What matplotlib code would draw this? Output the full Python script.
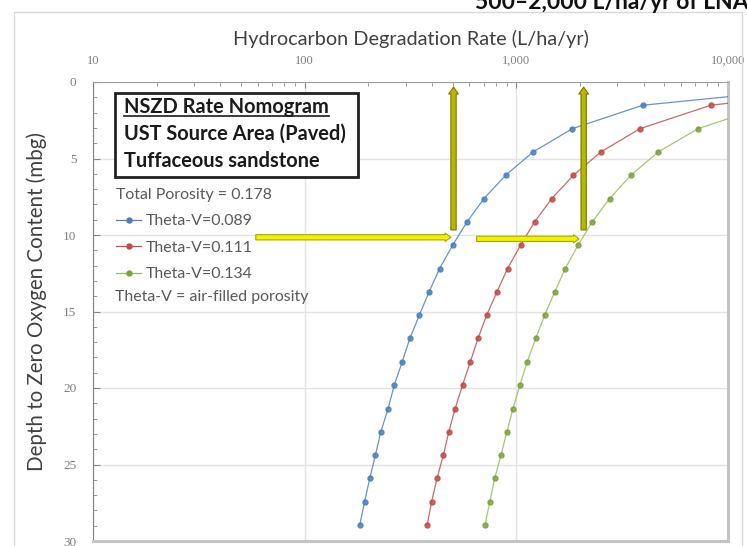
import matplotlib
matplotlib.use("Agg")
import matplotlib.pyplot as plt
from matplotlib.lines import Line2D
from matplotlib.patches import Rectangle
from matplotlib.ticker import FixedLocator, NullFormatter, FuncFormatter

# depth below grade (m), every 5 ft; the 0.30 m row lies off the chart to the right
depth = [0.30, 1.52, 3.05, 4.57, 6.10, 7.62, 9.14, 10.67, 12.19, 13.72, 15.24,
         16.76, 18.29, 19.81, 21.34, 22.86, 24.38, 25.91, 27.43, 28.96]

# degradation rate (L/ha/yr)
rate_089 = [30000, 3950, 1840, 1200, 890, 703, 585, 500, 434, 387, 348,
            314, 289, 265, 248, 229, 216, 203, 192, 182]
rate_111 = [49000, 8280, 3840, 2510, 1860, 1470, 1220, 1047, 909, 810, 724,
            659, 606, 557, 514, 480, 452, 422, 398, 379]
rate_134 = [80000, 15500, 7230, 4680, 3475, 2760, 2285, 1956, 1703, 1518, 1361,
            1234, 1126, 1040, 964, 903, 846, 790, 750, 711]

labels = ["Theta-V=0.089", "Theta-V=0.111", "Theta-V=0.134"]
colors = ["#4F81BD", "#C0504D", "#9BBB59"]
mcolors = ["#4A7EBB", "#BE4B48", "#7F9F3F"]

# target rate window and arrow rows
rate_lo, rate_hi = 505, 2080

plt.rcParams["font.family"] = ["Lato", "DejaVu Sans"]

fig = plt.figure(figsize=(7.47, 5.46), dpi=100)
ax = fig.add_axes([93 / 747, 1 - 541 / 546, 635 / 747, 459 / 546])

# faint chart-area frame
fig.patches.append(Rectangle((14 / 747, -0.05), 728 / 747, 1.05 - 12 / 546,
                             transform=fig.transFigure, fill=False,
                             edgecolor="#D9D9D9", lw=1, zorder=0))

for r, lab, c, mc in zip([rate_089, rate_111, rate_134], labels, colors, mcolors):
    ax.plot(r, depth, color=c, lw=0.9, alpha=0.85, marker="o", ms=3.6,
            mfc=mc, mec=mc, label=lab, zorder=3)

ax.set_xscale("log")
ax.set_xlim(10, 10000)
ax.set_ylim(30, 0)

ax.xaxis.tick_top()
ax.xaxis.set_label_position("top")
ax.xaxis.set_major_locator(FixedLocator([10, 100, 1000, 10000]))
ax.xaxis.set_major_formatter(FuncFormatter(lambda v, p: f"{v:,.0f}"))
ax.xaxis.set_minor_locator(FixedLocator([m * d for d in (10, 100, 1000) for m in range(2, 10)]))
ax.xaxis.set_minor_formatter(NullFormatter())
ax.yaxis.set_major_locator(FixedLocator([0, 5, 10, 15, 20, 25, 30]))
ax.yaxis.set_minor_locator(FixedLocator(list(range(0, 31))))

for t in ax.get_xticklabels() + ax.get_yticklabels():
    t.set_fontfamily("Liberation Serif")
ax.tick_params(axis="x", which="major", direction="in", length=4, pad=11,
               labelsize=9, colors="#888888", labelcolor="#7F7F7F")
ax.tick_params(axis="x", which="minor", direction="in", length=3, colors="#888888")
ax.tick_params(axis="y", which="major", direction="in", length=5, pad=12,
               labelsize=9.5, colors="#888888", labelcolor="#7F7F7F")
ax.tick_params(axis="y", which="minor", direction="in", length=3, colors="#888888")

ax.grid(True, which="major", color="#E3E3E3", lw=1, zorder=0)
ax.set_axisbelow(True)

ax.spines["left"].set_color("#808080")
ax.spines["top"].set_color("#A0A0A0")
ax.spines["right"].set_color("#C4C4C4")
ax.spines["bottom"].set_color("#C4C4C4")
ax.spines["right"].set_linewidth(2.2)
ax.spines["bottom"].set_linewidth(2.2)

ax.set_xlabel("Hydrocarbon Degradation Rate (L/ha/yr)", fontsize=14.3,
              color="#404040", labelpad=7)
ax.set_ylabel("Depth to Zero Oxygen Content (mbg)", fontsize=14.8, color="#404040")
ax.yaxis.set_label_coords(-0.072, 0.521)

# yellow arrows marking 500 and 2,000 L/ha/yr at 10 m
vert = dict(arrowstyle="simple,head_length=0.5,head_width=0.7,tail_width=0.38",
            fc="#B8B800", ec="#7A7A00", lw=0.8)
horz = dict(arrowstyle="simple,head_length=0.4,head_width=0.6,tail_width=0.38",
            fc="#F2F200", ec="#A8A800", lw=0.8)
ax.annotate("", xy=(rate_lo, 0.15), xytext=(rate_lo, 9.85), arrowprops=vert, zorder=5)
ax.annotate("", xy=(rate_hi, 0.15), xytext=(rate_hi, 9.85), arrowprops=vert, zorder=5)
ax.annotate("", xy=(rate_lo, 10.15), xytext=(57, 10.15), arrowprops=horz, zorder=5)
ax.annotate("", xy=(rate_hi - 40, 10.25), xytext=(630, 10.25), arrowprops=horz, zorder=5)

# title box
box = Rectangle(((115 - 93) / 635, 1 - (177 - 82) / 459), (358 - 115) / 635, (177 - 93) / 459,
                transform=ax.transAxes, fill=True, fc="white", ec="#222222", lw=2, zorder=6)
ax.add_patch(box)
box_lines = ["NSZD Rate Nomogram", "UST Source Area (Paved)", "Tuffaceous sandstone"]
box_y = [106.7, 133.3, 160.7]
texts = []
for s, yy in zip(box_lines, box_y):
    texts.append(ax.text((124 - 93) / 635, 1 - (yy - 82) / 459, s, transform=ax.transAxes,
                         fontsize=14.4, fontweight="bold", color="#1A1A1A",
                         va="center", ha="left", zorder=7))

# legend of series
handles = [Line2D([], [], color=c, lw=0.9, marker="o", ms=3.6, mfc=mc, mec=mc)
           for c, mc in zip(colors, mcolors)]
leg = ax.legend(handles, labels, title="Total Porosity = 0.178", loc="upper left",
                bbox_to_anchor=((108 - 93) / 635, 1 - (180 - 82) / 459), frameon=False,
                fontsize=11.4, title_fontsize=11.4, handlelength=1.6, handletextpad=0.3,
                labelspacing=0.78, borderpad=0, alignment="left")
for t in leg.get_texts():
    t.set_color("#595959")
leg.get_title().set_color("#595959")
ax.text((115 - 93) / 635, 1 - (296.7 - 82) / 459, "Theta-V = air-filled porosity",
        transform=ax.transAxes, fontsize=11.4, color="#595959", va="center", ha="left")

fig.text(475 / 747, 1 - 9 / 546, "500\u20132,000 L/ha/yr of LNAPL", fontsize=16.5,
         fontweight="bold", color="#111111", va="baseline", ha="left")

# underline the first box line
fig.canvas.draw()
bb = texts[0].get_window_extent().transformed(fig.transFigure.inverted())
fig.lines.append(Line2D([bb.x0, bb.x1], [bb.y0 + 0.001, bb.y0 + 0.001],
                        transform=fig.transFigure, color="#1A1A1A", lw=1.2, zorder=8))

fig.savefig("out.png", dpi=100)
